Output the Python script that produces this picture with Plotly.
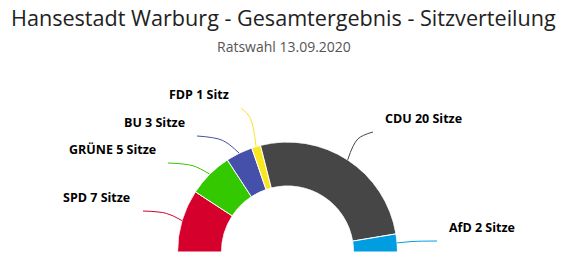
import plotly.graph_objects as go
import math

# ---- data ----
parties = ["SPD", "GRÜNE", "BU", "FDP", "CDU", "AfD"]
seats = [7, 5, 3, 1, 20, 2]
colors = ["#d5002b", "#33c800", "#4450aa", "#f8e620", "#464646", "#009ee0"]
title_text = "Hansestadt Warburg - Gesamtergebnis - Sitzverteilung"
subtitle_text = "Ratswahl 13.09.2020"

# ---- layout (pixel geometry) ----
W, H = 567, 259
CX, CY, R = 287.5, 252.0, 110.0
HOLE = 0.6
conn_end = [(143, 211), (168, 163), (197, 136), (241, 108), (373, 132), (437, 241)]
label_pos = [(132, 197), (158, 149), (187, 122), (231, 94), (383, 118), (447, 227)]
label_anchor = ["right", "right", "right", "right", "left", "left"]

total = sum(seats)
deg_per = 180.0 / total
centers, widths = [], []
acc = 0
for s in seats:
    centers.append((acc + s / 2) * deg_per)
    widths.append(s * deg_per)
    acc += s

fig = go.Figure()

fig.add_trace(go.Barpolar(
    r=[1] * len(seats), theta=centers, width=widths,
    marker=dict(color=colors, line=dict(color="white", width=1)),
    hoverinfo="skip", showlegend=False,
))

for i, (p, s) in enumerate(zip(parties, seats)):
    ang = math.radians(180 - centers[i])
    x0 = CX + R * math.cos(ang)
    y0 = CY - R * math.sin(ang)
    ex, ey = conn_end[i]
    x1 = ex + 0.6 * (x0 - ex)
    y1 = ey + 0.25 * (y0 - ey)
    fig.add_trace(go.Scatter(
        x=[ex, x1, x0], y=[ey, y1, y0], mode="lines",
        line=dict(color=colors[i], width=1, shape="spline", smoothing=1.0),
        hoverinfo="skip", showlegend=False,
    ))
    lbl = f"{p} {s} Sitz" if s == 1 else f"{p} {s} Sitze"
    lx, ly = label_pos[i]
    fig.add_annotation(x=lx, y=ly, xref="x", yref="y", text=f"<b>{lbl}</b>", showarrow=False,
                       xanchor=label_anchor[i], yanchor="middle",
                       font=dict(family="Open Sans", size=12.5, color="#000000"))

fig.add_annotation(x=W / 2, y=17, xref="x", yref="y", text=title_text, showarrow=False,
                   xanchor="center", yanchor="middle",
                   font=dict(family="Open Sans", size=21.6, color="#222222"))
fig.add_annotation(x=W / 2, y=46, xref="x", yref="y", text=subtitle_text, showarrow=False,
                   xanchor="center", yanchor="middle",
                   font=dict(family="Open Sans", size=14, color="#555555"))

fig.update_layout(
    width=W, height=H, margin=dict(l=0, r=0, t=0, b=0),
    paper_bgcolor="white", plot_bgcolor="rgba(0,0,0,0)",
    xaxis=dict(range=[0, W], visible=False, fixedrange=True, domain=[0, 1]),
    yaxis=dict(range=[H, 0], visible=False, fixedrange=True, domain=[0, 1]),
    polar=dict(
        domain=dict(x=[(CX - R) / W, (CX + R) / W], y=[(H - CY) / H, (H - CY + R) / H]),
        sector=[0, 180], hole=HOLE, bgcolor="rgba(0,0,0,0)",
        radialaxis=dict(range=[0, 1], visible=False, showgrid=False),
        angularaxis=dict(visible=False, showgrid=False, direction="clockwise", rotation=180),
    ),
    showlegend=False,
)

fig.write_html("out.html")
